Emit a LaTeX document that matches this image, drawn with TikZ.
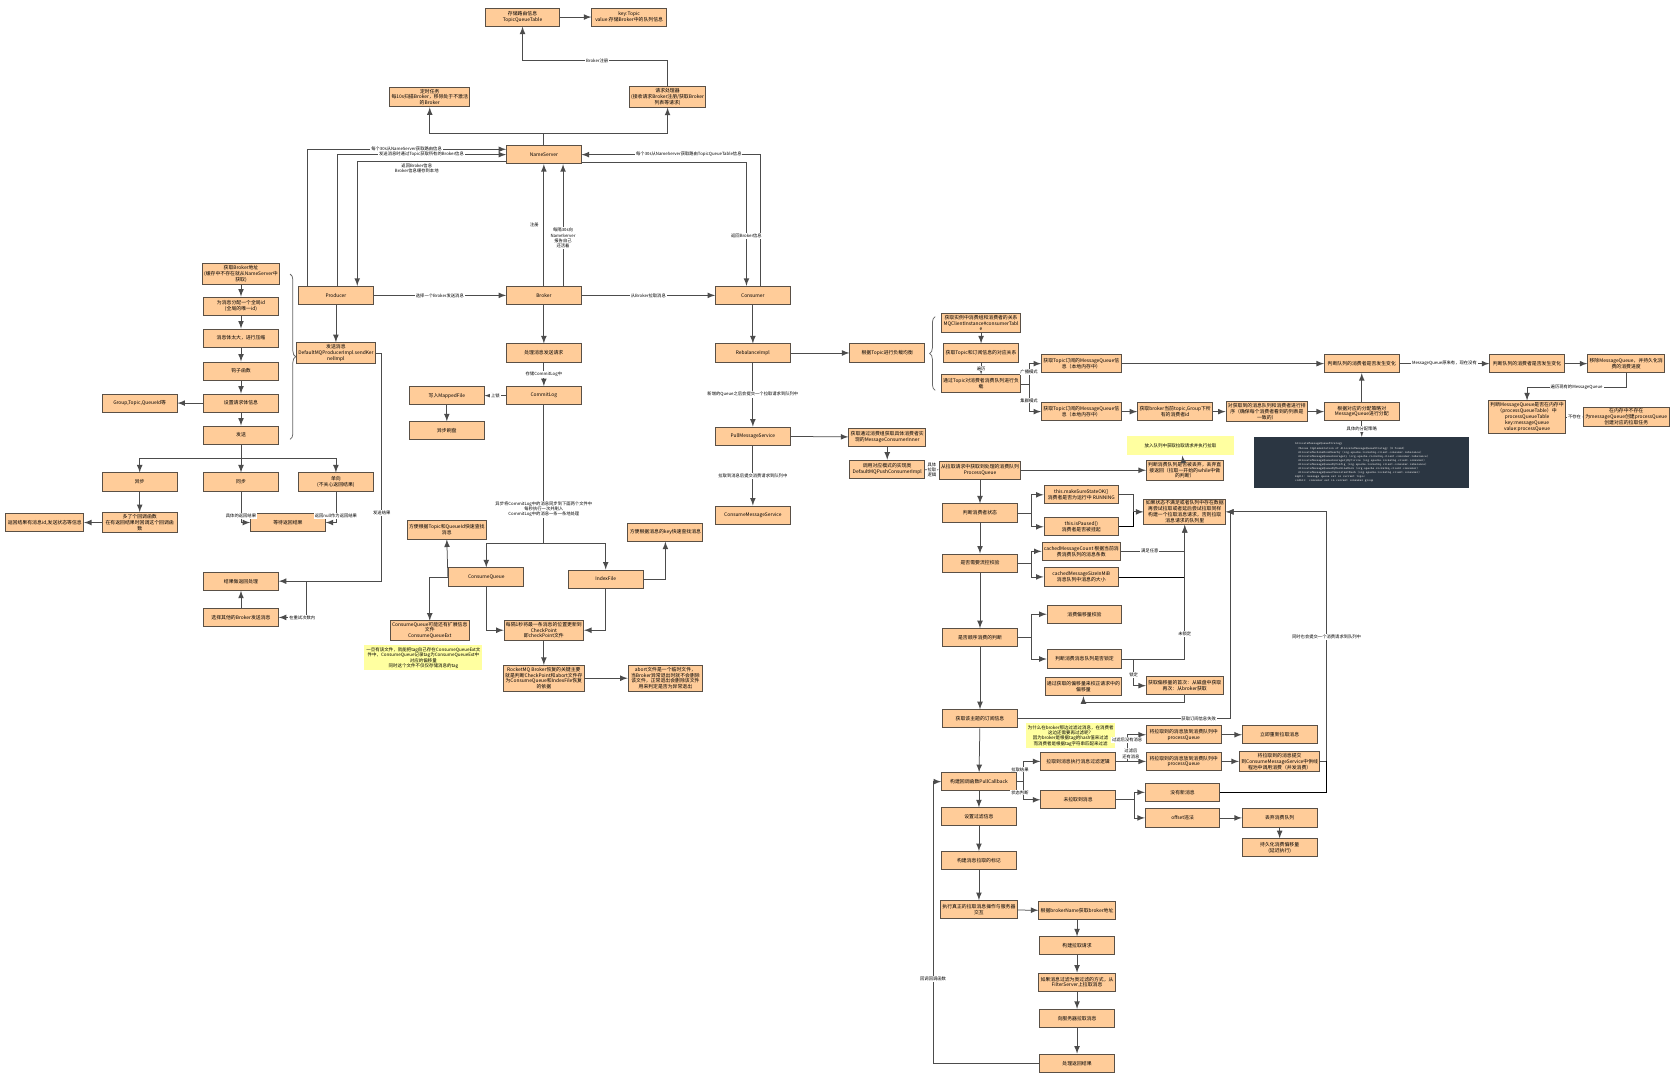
\documentclass[tikz,border=0pt]{standalone}
\usepackage{fontspec}
\setmainfont{Noto Sans CJK SC}
\usetikzlibrary{decorations.pathreplacing}
\definecolor{boxfill}{RGB}{255,204,153}
\definecolor{boxline}{RGB}{90,80,70}
\definecolor{notefill}{RGB}{255,255,160}
\definecolor{codebg}{RGB}{43,54,66}
\tikzset {
    box/.style={rectangle, draw=boxline, fill=boxfill, line width=0.5pt, minimum width=1.4cm, minimum height=0.34cm, align=center, inner sep=1pt, font=\fontsize{2.6}{3.1}\selectfont},
    note/.style={rectangle, fill=notefill, minimum width=1.9cm, minimum height=0.3cm, align=center, inner sep=1pt, font=\fontsize{2.4}{2.9}\selectfont},
    lbl/.style={fill=white, inner sep=0.5pt, align=center, font=\fontsize{2.3}{2.8}\selectfont},
    arr/.style={->, >=latex, draw=black!70, line width=0.4pt},
    brc/.style={decorate, decoration={brace, amplitude=3pt}, draw=black!60, line width=0.4pt},
}
\begin{document}
\begin{tikzpicture}[x=0.02cm, y=-0.02cm]
    \fill [white] (0,0) rectangle (1567,1013);
    % main roles
    \node (tqt) at (490,16) [box] {存储路由信息\\TopicQueueTable};
    \node (kv) at (590,16) [box] {key:Topic\\value:存储Broker中的队列信息};
    \node (timer) at (403,91) [box] {定时任务\\每10s扫描Broker，移除处于不激活\\的Broker};
    \node (reqp) at (626,91) [box] {请求处理器\\(接收请求Broker注册/获取Broker\\列表等请求)};
    \node (ns) at (510,145) [box] {NameServer};
    \node (prod) at (315,277) [box] {Producer};
    \node (brk) at (510,277) [box] {Broker};
    \node (cons) at (706,277) [box] {Consumer};
    \draw [arr] (tqt) -- (kv);
    \draw [arr] (reqp.north) |- (560,57) node [lbl] {Broker注册} -| (tqt.south);
    \draw [arr] (ns.north) -- (510,125) -| (timer.south);
    \draw [arr] (510,125) -| (reqp.south);
    \draw [arr] (288,268) |- (ns.west |- 0,140) node [lbl, pos=0.75] {每个30s从NameServer获取路由信息};
    \draw [arr] (316,268) |- (ns.west |- 0,145) node [lbl, pos=0.75] {发送消息时通过Topic获取所有的Broker信息};
    \draw [arr] (ns.west |- 0,151) -| (335,268) node [lbl, pos=0.3, yshift=-4] {返回Broker信息\\Broker信息缓存到本地};
    \draw [arr] (brk.north) -- (ns.south) node [lbl, midway, xshift=-5] {注册};
    \draw [arr] (528,268) -- (528,154) node [lbl, midway, yshift=-7] {每隔30s向\\NameServer\\报告自己\\还活着};
    \draw [arr] (713,268) |- (ns.east |- 0,145) node [lbl, pos=0.7] {每个30s从NameServer获取路由TopicQueueTable信息};
    \draw [arr] (ns.east |- 0,152) -| (700,268) node [lbl, pos=0.8] {返回Broker信息};
    \draw [arr] (prod) -- (brk) node [lbl, midway] {选择一个Broker发送消息};
    \draw [arr] (brk) -- (cons) node [lbl, midway] {从Broker拉取消息};
    % producer
    \node (pb1) at (226,257) [box] {获取Broker地址\\(缓存中不存在就从NameServer中\\获取)};
    \node (pb2) at (226,287) [box] {为消息分配一个全局id\\(全局的唯一id)};
    \node (pb3) at (226,317) [box] {消息体太大，进行压缩};
    \node (pb4) at (226,348) [box] {钩子函数};
    \node (pb5) at (226,378) [box] {设置请求体信息};
    \node (pb6) at (226,408) [box] {发送};
    \node (gtq) at (131,378) [box] {Group,Topic,QueueId等};
    \node (defi) at (315,331) [box] {发送消息\\DefaultMQProducerImpl.sendKer\\nelImpl};
    \node (asy) at (131,452) [box] {异步};
    \node (syn) at (226,452) [box] {同步};
    \node (one) at (315,452) [box] {单向\\(不关心返回结果)};
    \node (cb) at (131,490) [box] {多了个回调函数\\在有返回结果时回调这个回调函\\数};
    \node (cbres) at (42,490) [box] {返回结果有消息id,发送状态等信息};
    \node (wait) at (270,490) [box] {等待返回结果};
    \node (res) at (226,545) [box] {结果做返回处理};
    \node (retry) at (226,579) [box] {选择其他的Broker发送消息};
    \foreach \a/\b in {pb1/pb2, pb2/pb3, pb3/pb4, pb4/pb5, pb5/pb6, prod/defi, asy/cb, retry/res}
        \draw [arr] (\a) -- (\b);
    \draw [arr] (pb5) -- (gtq);
    \draw [arr] (cb) -- (cbres);
    \draw [brc] (272,257) -- (272,412);
    \draw [arr] (pb6.south) -- (226,430) -| (asy.north);
    \draw [arr] (226,430) -| (one.north);
    \draw [arr] (pb6.south) -- (syn.north);
    \draw [arr] (syn.south) |- (wait.west) node [lbl, pos=0.4] {具体的返回结果};
    \draw [arr] (one.south) |- (wait.east) node [lbl, pos=0.4] {返回null作为返回结果};
    \draw [arr] (defi.east) -- (358,331) -- (358,545) node [lbl, pos=0.7] {发送结果} -- (res.east);
    \draw [arr] (287,545) |- (retry.east) node [lbl, pos=0.5, xshift=-2] {在重试次数内};
    % broker
    \node (proc) at (510,331) [box] {处理消息发送请求};
    \node (clog) at (510,371) [box] {CommitLog};
    \node (mf) at (419,371) [box] {写入MappedFile};
    \node (disk) at (419,404) [box] {异步刷盘};
    \node (cq) at (456,541) [box] {ConsumeQueue};
    \node (idx) at (568,543) [box] {IndexFile};
    \node (cqn) at (419,497) [box] {方便根据Topic和QueueId快速查找\\消息};
    \node (idxn) at (624,499) [box] {方便根据消息的key快速查找消息};
    \node (cqx) at (403,591) [box] {ConsumeQueue可能还有扩展信息\\文件\\ConsumeQueueExt};
    \node (cqnote) at (397,617) [note] {一旦有该文件，就能把tag自己存在ConsumeQueueExt文\\件中，ConsumeQueue记录tag为ConsumeQueueExt中\\对应的偏移量\\同时这个文件不仅仅存储消息的tag};
    \node (ckpt) at (510,591) [box] {每隔1秒将最一条消息的位置更新到\\CheckPoint\\即checkPoint文件};
    \node (rec) at (510,636) [box] {RocketMQ Broker恢复的关键主要\\就是判断CheckPoint和abort文件存\\为ConsumeQueue和IndexFile恢复\\的依据};
    \node (abrt) at (624,636) [box] {abort文件是一个临时文件，\\当Broker异常退出时就不会删除\\该文件，正常退出会删除该文件\\用来判定是否为异常退出};
    \draw [arr] (brk) -- (proc);
    \draw [arr] (proc) -- (clog) node [lbl, midway] {存储CommitLog中};
    \draw [arr] (clog) -- (mf) node [lbl, midway] {上锁};
    \draw [arr] (mf) -- (disk);
    \draw [arr] (clog.south) -- (510,510) node [lbl, pos=0.75] {异步将CommitLog中的消息同步到下面两个文件中\\每秒执行一次并刷入\\CommitLog中的消息一条一条地处理} -| (cq.north);
    \draw [arr] (510,510) -| (idx.north);
    \draw [arr] (cq.west) -- (420,541) -- (cqn.south);
    \draw [arr] (cq.west) -| (403,582);
    \draw [arr] (idx.east) -| (idxn.south);
    \draw [arr] (cq.south) |- (ckpt.west);
    \draw [arr] (idx.south) |- (ckpt.east);
    \draw [arr] (ckpt) -- (rec);
    \draw [arr] (rec) -- (abrt);
    % consumer
    \node (rebal) at (706,331) [box] {RebalanceImpl};
    \node (pms) at (706,409) [box] {PullMessageService};
    \node (cms) at (706,483) [box] {ConsumeMessageService};
    \node (lb) at (832,331) [box] {根据Topic进行负载均衡};
    \node (r1) at (920,303) [box] {获取实例中消费组和消费者的关系\\MQClientInstance\#consumerTabl\\e};
    \node (r2) at (920,331) [box] {获取Topic和订阅信息的对应关系};
    \node (r3) at (920,360) [box] {通过Topic对消费者消费队列进行负\\载};
    \draw [arr] (cons) -- (rebal);
    \draw [arr] (rebal) -- (pms) node [lbl, midway] {新增的Queue之后会提交一个拉取请求到队列中};
    \draw [arr] (pms) -- (cms) node [lbl, midway] {拉取到消息后提交消费请求到队列中};
    \draw [arr] (rebal) -- (lb);
    \draw [brc] (877,366) -- (877,297);
    \draw [arr] (r1) -- (r2);
    \draw [arr] (r2) -- (r3) node [lbl, midway] {遍历};
    \node (bc) at (1014,341) [box] {获取Topic订阅的MessageQueue信\\息（本地内存中）};
    \node (cl) at (1014,386) [box] {获取Topic订阅的MessageQueue信\\息（本地内存中）};
    \node (cid) at (1102,386) [box] {获取broker当前topic,Group下所\\有的消费者id};
    \node (srt) at (1188,386) [box] {对获取到的消息队列和消费者进行排\\序（确保每个消费者看到的列表是\\一致的）};
    \node (alc) at (1277,386) [box] {根据对应的分配策略对\\MessageQueue进行分配};
    \node (chg) at (1277,341) [box] {判断队列的消费者是否发生变化};
    \node (chg2) at (1432,341) [box] {判断队列的消费者是否发生变化};
    \node (rm) at (1525,341) [box] {移除MessageQueue，并持久化消\\费的消费进度};
    \node (pq) at (1432,391) [box, minimum height=0.56cm] {判断MessageQueue是否在内存中\\（processQueueTable）中\\processQueueTable\\key:messageQueue\\value:processQueue};
    \node (npq) at (1525,391) [box] {在内存中不存在\\为messageQueue创建processQueue\\创建对应的拉取任务};
    \draw [arr] (r3.east) -- (965,360) |- (bc.west) node [lbl, pos=0.3] {广播模式};
    \draw [arr] (965,360) |- (cl.west) node [lbl, pos=0.3] {集群模式};
    \draw [arr] (bc) -- (chg);
    \draw [arr] (cl) -- (cid);
    \draw [arr] (cid) -- (srt);
    \draw [arr] (srt) -- (alc);
    \draw [arr] (alc) -- (chg);
    \draw [arr] (chg) -- (chg2) node [lbl, midway] {MessageQueue原来有，现在没有};
    \draw [arr] (chg2) -- (rm);
    \draw [arr] (rm.south) |- (1432,363) node [lbl, pos=0.75] {遍历现有的MessageQueue} -- (pq.north);
    \draw [arr] (pq) -- (npq) node [lbl, midway] {不存在};
    % allocate strategy box
    \node (code) at (1277,434) [rectangle, fill=codebg, minimum width=4.04cm, minimum height=0.96cm, text=black!15, align=left, inner sep=2pt, font=\fontsize{1.7}{2.2}\ttfamily] {
        AllocateMessageQueueStrategy \\
        \quad Choose Implementation of AllocateMessageQueueStrategy (6 found) \\
        \quad AllocateMachineRoomNearby (org.apache.rocketmq.client.consumer.rebalance) \\
        \quad AllocateMessageQueueAveragely (org.apache.rocketmq.client.consumer.rebalance) \\
        \quad AllocateMessageQueueAveragelyByCircle (org.apache.rocketmq.client.consumer) \\
        \quad AllocateMessageQueueByConfig (org.apache.rocketmq.client.consumer.rebalance) \\
        \quad AllocateMessageQueueByMachineRoom (org.apache.rocketmq.client.consumer) \\
        \quad AllocateMessageQueueConsistentHash (org.apache.rocketmq.client.consumer) \\
        mqAll: message queue set in current topic \\
        cidAll: consumer set in current consumer group};
    \draw [arr] (alc) -- (code) node [lbl, midway] {具体的分配策略};
    % pull message
    \node (pa) at (832,410) [box] {获取通过消费组获取具体消费者实\\现的MessageConsumerInner};
    \node (pb) at (832,440) [box] {调用对应模式的实现类\\DefaultMQPushConsumerImpl};
    \node (pull) at (919,441) [box] {从拉取请求中获取到处理的消费队列\\ProcessQueue};
    \node (drop) at (1111,441) [box] {判断消费队列是否被丢弃，丢弃直\\接返回（拉取一开始的while中做\\的判断）};
    \node (n1) at (1107,418) [note, minimum width=2cm, minimum height=0.36cm] {放入队列中获取拉取请求并执行拉取};
    \draw [arr] (pms) -- (pa);
    \draw [arr] (pa) -- (pb);
    \draw [arr] (pb) -- (pull) node [lbl, midway] {具体\\拉取\\逻辑};
    \draw [arr] (pull) -- (drop);
    \draw [arr] (drop) -- (n1);
    \node (st) at (919,481) [box] {判断消费者状态};
    \node (s1) at (1014,464) [box] {this.makeSureStateOK()\\消费者是否为运行中 RUNNING};
    \node (s2) at (1014,494) [box] {this.isPaused()\\消费者是否被挂起};
    \node (fl) at (1111,480) [box] {如果状态不满足或者队列中存在数据\\再尝试拉取或者延后尝试拉取同样\\构建一个拉取消息请求，否则拉取\\消息请求的队列里};
    \node (fc) at (919,528) [box] {是否需要流控校验};
    \node (f1) at (1014,517) [box] {cachedMessageCount 根据当前消\\费消费队列的消息条数};
    \node (f2) at (1014,541) [box] {cachedMessageSizeInMiB\\消息队列中消息的大小};
    \node (ord) at (919,598) [box] {是否顺序消费的判断};
    \node (o1) at (1017,576) [box] {消费偏移量校验};
    \node (o2) at (1017,618) [box] {判断消费消息队列是否锁定};
    \node (o3) at (1111,643) [box] {获取偏移量的首次：从磁盘中获取\\再次：从broker获取};
    \node (o4) at (1016,644) [box] {通过获取的偏移量来校正请求中的\\偏移量};
    \node (sub) at (919,674) [box] {获取该主题的订阅信息};
    \draw [arr] (pull) -- (st);
    \draw [arr] (st) -- (fc);
    \draw [arr] (fc) -- (ord);
    \draw [arr] (ord) -- (sub);
    \draw [arr] (st.east) -- (967,481) |- (s1.west);
    \draw [arr] (967,481) |- (s2.west);
    \draw [arr] (s1.east) -| (1063,480) -- (fl.west);
    \draw (s2.east) -| (1063,480);
    \draw [arr] (fc.east) -- (967,528) |- (f1.west);
    \draw [arr] (967,528) |- (f2.west);
    \draw [arr] (f1.east) -- (1111,517) node [lbl, pos=0.45] {满足任意} -- (fl.south);
    \draw (f2.east) -| (1111,517);
    \draw [arr] (ord.east) -- (967,598) |- (o1.west);
    \draw [arr] (967,598) |- (o2.west);
    \draw [arr] (o2.east) -| (1111,560) node [lbl, pos=0.7] {未锁定} -- (fl.south);
    \draw [arr] (o2.east) -- (1063,618) |- (o3.west) node [lbl, pos=0.3] {锁定};
    \draw [arr] (o3.south) -- (1111,659) -| (o4.south);
    % pull callback
    \node (n2) at (1004,690) [note, minimum width=1.6cm, minimum height=0.45cm] {为什么在broker那边过滤过消息，在消费者\\这边还需要再过滤呢？\\因为broker是根据tag的hash值来过滤\\而消费者是根据tag字符串匹配来过滤};
    \node (pcb) at (918,733) [box] {构建回调函数PullCallback};
    \node (p1) at (1011,714) [box] {拉取到消息执行消息过滤逻辑};
    \node (p2) at (1011,750) [box] {未拉取到消息};
    \node (q1) at (1110,689) [box] {将拉取到的消息放到消费队列中\\processQueue};
    \node (q2) at (1110,714) [box] {将拉取到的消息放到消费队列中\\processQueue};
    \node (q3) at (1200,689) [box] {立即重新拉取消息};
    \node (q4) at (1200,714) [box] {将拉取到的消息提交\\到ConsumeMessageService中供线\\程池中调用消费（并发消费）};
    \node (q5) at (1109,743) [box] {没有新消息};
    \node (q6) at (1109,767) [box] {offset违法};
    \node (q7) at (1200,767) [box] {丢弃消费队列};
    \node (q8) at (1200,795) [box] {持久化消费偏移量\\(延迟执行)};
    \draw [arr] (sub) -- (pcb);
    \draw [arr] (sub.east) -- (1154,674) node [lbl, pos=0.85] {获取订阅信息失败} -- (1154,480) -- (fl.east);
    \draw [arr] (pcb.east) -- (960,733) |- (p1.west) node [lbl, pos=0.3, xshift=-2] {拉取结果};
    \draw [arr] (960,733) |- (p2.west) node [lbl, pos=0.3, xshift=-2] {状态判断};
    \draw [arr] (p1.east) -- (1057,714) |- (q1.west) node [lbl, pos=0.4] {过滤后没有消息};
    \draw [arr] (p1) -- (q2) node [lbl, midway, yshift=4] {过滤后\\还有消息};
    \draw [arr] (q1) -- (q3);
    \draw [arr] (q2) -- (q4);
    \draw [arr] (p2.east) -- (1064,750) |- (q5.west);
    \draw [arr] (1064,750) |- (q6.west);
    \draw [arr] (q6) -- (q7);
    \draw [arr] (q7) -- (q8);
    \draw [arr] (q4.east) -- (1244,714) -- (1244,480) node [lbl, pos=0.5] {同时也会提交一个消费请求到队列中} -- (fl.east);
    \draw (q5.east) -| (1244,714);
    % execute pull
    \node (flt) at (918,766) [box] {设置过滤信息};
    \node (mrk) at (918,807) [box] {构建消息拉取的标记};
    \node (ex) at (918,853) [box] {执行真正的拉取消息操作与服务器\\交互};
    \node (e1) at (1010,854) [box] {根据brokerName获取broker地址};
    \node (e2) at (1010,887) [box] {构建拉取请求};
    \node (e3) at (1010,921) [box] {如果消息过滤为类过滤的方式，从\\FilterServer上拉取消息};
    \node (e4) at (1010,955) [box] {向服务器拉取消息};
    \node (e5) at (1010,997) [box] {处理返回结果};
    \draw [arr] (pcb) -- (flt);
    \draw [arr] (flt) -- (mrk);
    \draw [arr] (mrk) -- (ex);
    \draw [arr] (ex) -- (e1);
    \foreach \a/\b in {e1/e2, e2/e3, e3/e4, e4/e5}
        \draw [arr] (\a) -- (\b);
    \draw [arr] (e5.west) -- (875,997) -- (875,733) node [lbl, pos=0.3] {回调回调函数} -- (pcb.west);
\end{tikzpicture}
\end{document}
